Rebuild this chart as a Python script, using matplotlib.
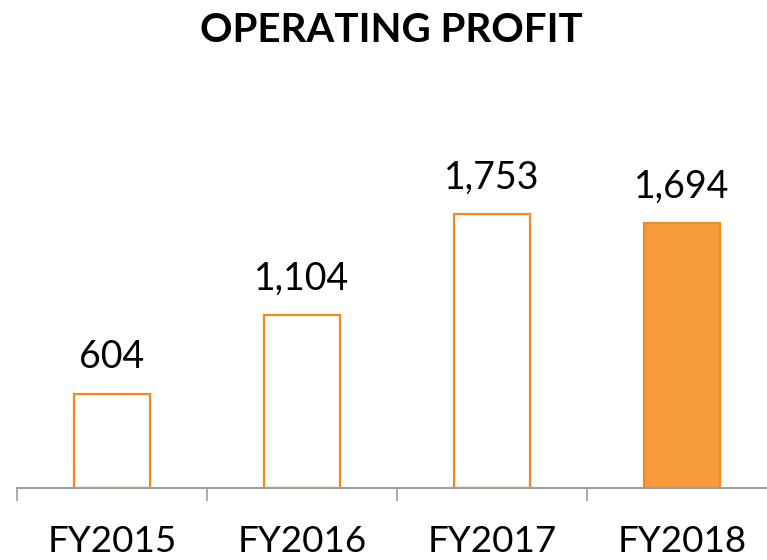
import matplotlib
matplotlib.use("Agg")
import matplotlib.pyplot as plt
import numpy as np

categories = ["FY2015", "FY2016", "FY2017", "FY2018"]
values = [604, 1104, 1753, 1694]
labels = ["604", "1,104", "1,753", "1,694"]
filled = [False, False, False, True]

plt.rcParams['font.family'] = ['Lato', 'DejaVu Sans']

fig = plt.figure(figsize=(7.67, 5.6), dpi=100)
ax = fig.add_axes([17/767, 72/560, 760/767, 388/560])

edge = "#F28A1F"
fill = "#F79A3B"
x = np.arange(len(categories))
for xi, v, f in zip(x, values, filled):
    ax.bar(xi, v, width=0.4, facecolor=fill if f else "white",
           edgecolor=edge, linewidth=1.6, zorder=2)
for xi, v, lab in zip(x, values, labels):
    ax.annotate(lab, (xi, v), xytext=(0, 13), textcoords="offset points",
                ha="center", va="bottom", fontsize=27, color="black")

ax.set_xlim(-0.5, 3.5)
ax.set_ylim(0, 2480)
for s in ["top", "right", "left"]:
    ax.spines[s].set_visible(False)
ax.spines["bottom"].set_color("#9E9E9E")
ax.spines["bottom"].set_linewidth(1.5)
ax.spines["bottom"].set_zorder(3)
ax.set_yticks([])
ax.set_xticks(x)
ax.set_xticklabels(categories, fontsize=26.5)
ax.tick_params(axis="x", which="major", length=0, pad=27)
ax.set_xticks(np.arange(-0.5, 4.0, 1.0), minor=True)
ax.tick_params(axis="x", which="minor", length=9, width=1.2, color="#9E9E9E")

fig.text(391/767, 1 - 30/560, "OPERATING PROFIT", ha="center", va="center",
         fontsize=29, fontweight="bold")

fig.savefig("out.png", dpi=100)
